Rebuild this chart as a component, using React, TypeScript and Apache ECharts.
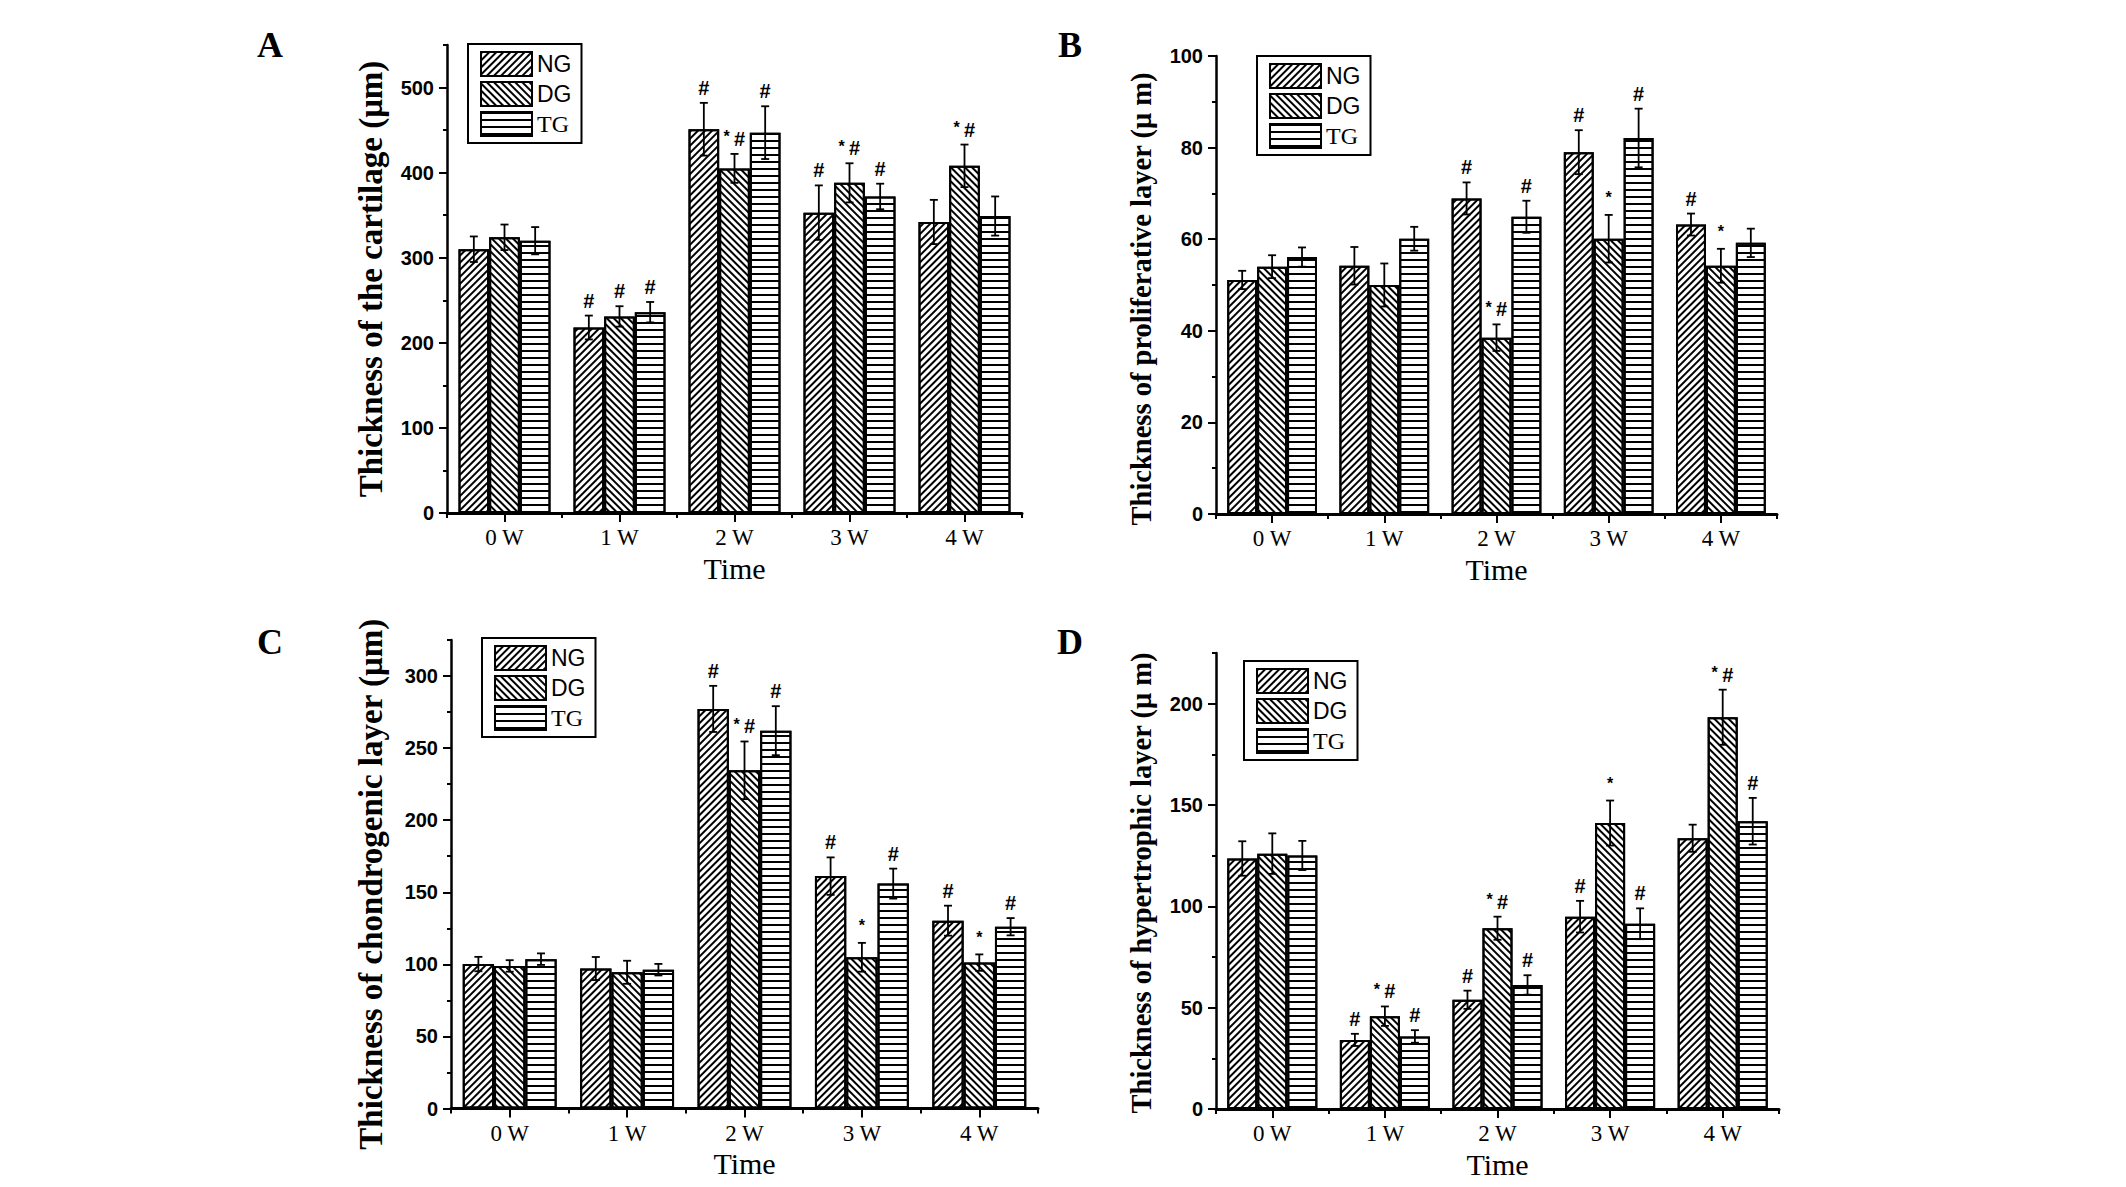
import React, { useEffect, useRef } from 'react';
import * as echarts from 'echarts';

// ---------- data ----------
const categories = ['0 W', '1 W', '2 W', '3 W', '4 W'];
const groupNames = ['NG', 'DG', 'TG'];

// A: thickness of the cartilage (μm)
const cartilageNG = [310, 218, 451, 353, 342];
const cartilageDG = [324, 231, 405, 388, 408];
const cartilageTG = [320, 236, 447, 372, 349];
const cartilageNGErr = [15, 14, 31, 32, 26];
const cartilageDGErr = [15, 12, 17, 23, 25];
const cartilageTGErr = [16, 12, 31, 15, 23];
const cartilageNGSig = ['', '#', '#', '#', ''];
const cartilageDGSig = ['', '#', '*#', '*#', '*#'];
const cartilageTGSig = ['', '#', '#', '#', ''];
const cartilageTicks = [0, 100, 200, 300, 400, 500];
const cartilageMinorTicks = [50, 150, 250, 350, 450, 550];

// B: thickness of proliferative layer (μm)
const prolifNG = [51.1, 54.2, 68.9, 79.0, 63.2];
const prolifDG = [54.0, 50.0, 38.5, 60.1, 54.2];
const prolifTG = [56.1, 60.1, 64.9, 82.1, 59.2];
const prolifNGErr = [2.0, 4.1, 3.5, 4.8, 2.4];
const prolifDGErr = [2.5, 4.7, 2.9, 5.2, 3.7];
const prolifTGErr = [2.1, 2.6, 3.5, 6.4, 3.1];
const prolifNGSig = ['', '', '#', '#', '#'];
const prolifDGSig = ['', '', '*#', '*', '*'];
const prolifTGSig = ['', '', '#', '#', ''];
const prolifTicks = [0, 20, 40, 60, 80, 100];
const prolifMinorTicks = [10, 30, 50, 70, 90];

// C: thickness of chondrogenic layer (μm)
const chondroNG = [100.2, 97.1, 277.2, 161.2, 130.3];
const chondroDG = [98.9, 94.5, 234.6, 104.9, 101.2];
const chondroTG = [103.6, 96.3, 262.1, 156.0, 126.1];
const chondroNGErr = [5, 8, 16, 13, 10.4];
const chondroDGErr = [4, 8, 20, 10, 5.7];
const chondroTGErr = [4, 4, 17, 10.4, 6];
const chondroNGSig = ['', '', '#', '#', '#'];
const chondroDGSig = ['', '', '*#', '*', '*'];
const chondroTGSig = ['', '', '#', '#', '#'];
const chondroTicks = [0, 50, 100, 150, 200, 250, 300];
const chondroMinorTicks = [25, 75, 125, 175, 225, 275, 325];

// D: thickness of hypertrophic layer (μm)
const hyperNG = [123.6, 34.1, 53.9, 94.9, 133.6];
const hyperDG = [126.0, 45.8, 89.2, 141.1, 193.3];
const hyperTG = [125.1, 35.8, 61.2, 91.4, 142.0];
const hyperNGErr = [8.5, 3, 4.5, 7.8, 6.7];
const hyperDGErr = [10, 4.8, 5.7, 11.1, 13.6];
const hyperTGErr = [7.2, 3.1, 4.8, 7.6, 11.5];
const hyperNGSig = ['', '#', '#', '#', ''];
const hyperDGSig = ['', '*#', '*#', '*', '*#'];
const hyperTGSig = ['', '#', '#', '#', '#'];
const hyperTicks = [0, 50, 100, 150, 200];
const hyperMinorTicks = [25, 75, 125, 175, 225];

const panels = [
  {
    letter: 'A', title: 'Thickness of the cartilage (μm)',
    values: [cartilageNG, cartilageDG, cartilageTG],
    errors: [cartilageNGErr, cartilageDGErr, cartilageTGErr],
    sigs: [cartilageNGSig, cartilageDGSig, cartilageTGSig],
    ticks: cartilageTicks, minorTicks: cartilageMinorTicks, yMax: 550, step: 50,
  },
  {
    letter: 'B', title: 'Thickness of proliferative layer (μ m)',
    values: [prolifNG, prolifDG, prolifTG],
    errors: [prolifNGErr, prolifDGErr, prolifTGErr],
    sigs: [prolifNGSig, prolifDGSig, prolifTGSig],
    ticks: prolifTicks, minorTicks: prolifMinorTicks, yMax: 100, step: 10,
  },
  {
    letter: 'C', title: 'Thickness of chondrogenic layer (μm)',
    values: [chondroNG, chondroDG, chondroTG],
    errors: [chondroNGErr, chondroDGErr, chondroTGErr],
    sigs: [chondroNGSig, chondroDGSig, chondroTGSig],
    ticks: chondroTicks, minorTicks: chondroMinorTicks, yMax: 325, step: 25,
  },
  {
    letter: 'D', title: 'Thickness of hypertrophic layer (μ m)',
    values: [hyperNG, hyperDG, hyperTG],
    errors: [hyperNGErr, hyperDGErr, hyperTGErr],
    sigs: [hyperNGSig, hyperDGSig, hyperTGSig],
    ticks: hyperTicks, minorTicks: hyperMinorTicks, yMax: 225, step: 25,
  },
];

// ---------- layout / style ----------
const layouts = [
  { grid: { left: 447, top: 45, width: 575, height: 468 }, titleSize: 33, nameGap: 60, titleShift: 0, legend: { left: 468, top: 44 }, letterPos: [270, 45] },
  { grid: { left: 1216, top: 56, width: 561, height: 458 }, titleSize: 28.5, nameGap: 60, titleShift: 14, legend: { left: 1257, top: 56 }, letterPos: [1070, 45] },
  { grid: { left: 451, top: 640, width: 587, height: 468.5 }, titleSize: 33, nameGap: 64, titleShift: 10, legend: { left: 482, top: 638 }, letterPos: [270, 642] },
  { grid: { left: 1216, top: 653, width: 563, height: 456 }, titleSize: 28.5, nameGap: 60, titleShift: 2, legend: { left: 1244, top: 661 }, letterPos: [1070, 642] },
];

const BAR_GROUP_FRAC = 0.8;
const SANS = 'Liberation Sans, Arial, sans-serif';
const SERIF = 'Liberation Serif, Times New Roman, serif';

const decals = [
  { symbol: 'rect', symbolSize: 1, color: '#000', dashArrayX: [1, 0], dashArrayY: [1.3, 2.5], rotation: -Math.PI / 4 },
  { symbol: 'rect', symbolSize: 1, color: '#000', dashArrayX: [1, 0], dashArrayY: [1.3, 2.5], rotation: Math.PI / 4 },
  { symbol: 'rect', symbolSize: 1, color: '#000', dashArrayX: [1, 0], dashArrayY: [1.8, 4.8], rotation: 0 },
];

function buildOption() {
  const grid: any[] = [];
  const xAxis: any[] = [];
  const yAxis: any[] = [];
  const series: any[] = [];
  const legend: any[] = [];
  const graphic: any[] = [];

  panels.forEach((p, pi) => {
    const L = layouts[pi];
    grid.push({ ...L.grid, containLabel: false });
    xAxis.push({
      type: 'category', gridIndex: pi, data: categories, position: 'bottom',
      axisLine: { show: true, onZero: false, lineStyle: { color: '#000', width: 3 } },
      axisTick: { show: true, alignWithLabel: true, length: 9, lineStyle: { color: '#000', width: 2 } },
      axisLabel: { fontFamily: SERIF, fontSize: 23, color: '#000', margin: 13 },
      splitLine: { show: false },
      name: 'Time', nameLocation: 'middle', nameGap: 40,
      nameTextStyle: { fontFamily: SERIF, fontSize: 30, color: '#000' },
    });
    xAxis.push({
      type: 'category', gridIndex: pi, data: categories, position: 'bottom',
      axisLine: { show: false, onZero: false },
      axisTick: { show: true, length: 5, lineStyle: { color: '#000', width: 2 } },
      axisLabel: { show: false }, splitLine: { show: false },
    });
    yAxis.push({
      type: 'value', gridIndex: pi, position: 'left', min: 0, max: p.yMax, interval: p.step,
      splitLine: { show: false },
      axisLine: { show: true, lineStyle: { color: '#000', width: 2.5 } },
      axisTick: { show: true, length: 8, customValues: p.ticks, lineStyle: { color: '#000', width: 2 } },
      axisLabel: { customValues: p.ticks, fontFamily: SANS, fontWeight: 'bold', fontSize: 20, color: '#000', margin: 13 },
      name: p.title, nameLocation: 'middle', nameRotate: 90, nameGap: L.nameGap,
      nameTextStyle: {
        fontFamily: SERIF, fontWeight: 'bold', fontSize: L.titleSize, color: '#000',
        padding: [0, L.titleShift * 2, 0, 0],
      },
    });
    yAxis.push({
      type: 'value', gridIndex: pi, position: 'left', min: 0, max: p.yMax, interval: p.step,
      splitLine: { show: false },
      axisLine: { show: false },
      axisTick: { show: true, length: 4, customValues: p.minorTicks, lineStyle: { color: '#000', width: 2 } },
      axisLabel: { show: false },
    });

    groupNames.forEach((g, gi) => {
      series.push({
        type: 'bar', name: g, xAxisIndex: pi * 2, yAxisIndex: pi * 2,
        data: p.values[gi], barGap: '0%', barCategoryGap: '20%',
        itemStyle: { color: '#fff', borderColor: '#000', borderWidth: 2, decal: decals[gi] },
        emphasis: { disabled: true }, silent: true,
      });
    });
    groupNames.forEach((g, gi) => {
      const vals = p.values[gi];
      const errs = p.errors[gi];
      const sigs = p.sigs[gi];
      series.push({
        type: 'custom', name: `err-${p.letter}-${g}`, xAxisIndex: pi * 2, yAxisIndex: pi * 2,
        data: vals.map((v, i) => [i, v, errs[i]]),
        encode: { x: 0, y: 1 }, z: 10, silent: true,
        renderItem: (params: any, api: any) => {
          const ci = api.value(0);
          const v = api.value(1);
          const e = api.value(2);
          const band = api.size([1, 0])[0];
          const c = api.coord([ci, v]);
          const x = c[0] + (gi - 1) * band * BAR_GROUP_FRAC / 3;
          const yTop = api.coord([ci, v + e])[1];
          const yBot = api.coord([ci, v - e])[1];
          const ls = { stroke: '#000', lineWidth: 1.8 };
          const children: any[] = [
            { type: 'line', shape: { x1: x, y1: yTop, x2: x, y2: yBot }, style: ls },
            { type: 'line', shape: { x1: x - 4, y1: yTop, x2: x + 4, y2: yTop }, style: ls },
            { type: 'line', shape: { x1: x - 4, y1: yBot, x2: x + 4, y2: yBot }, style: ls },
          ];
          const sig = sigs[params.dataIndex];
          const base = yTop - 5;
          const hash = (hx: number) => ({
            type: 'text', x: hx, y: base,
            style: { text: '#', fontFamily: SANS, fontWeight: 'bold', fontSize: 20, fill: '#000', align: 'center', verticalAlign: 'bottom', textAlign: 'center', textVerticalAlign: 'bottom' },
          });
          const star = (sx: number) => ({
            type: 'text', x: sx, y: base - 4,
            style: { text: '*', fontFamily: SANS, fontWeight: 'bold', fontSize: 16, fill: '#000', align: 'center', verticalAlign: 'bottom', textAlign: 'center', textVerticalAlign: 'bottom' },
          });
          if (sig === '#') children.push(hash(x));
          else if (sig === '*') children.push(star(x));
          else if (sig === '*#') { children.push(star(x - 8)); children.push(hash(x + 5)); }
          return { type: 'group', children };
        },
      });
    });

    legend.push({
      orient: 'vertical', left: L.legend.left, top: L.legend.top, data: groupNames,
      icon: 'rect', itemWidth: 51, itemHeight: 24, itemGap: 4,
      padding: [7, 10, 6, 12], borderColor: '#000', borderWidth: 2, backgroundColor: '#fff',
      selectedMode: false,
      itemStyle: { borderColor: '#000', borderWidth: 2 },
      formatter: (n: string) => (n === 'TG' ? `{t|${n}}` : `{s|${n}}`),
      textStyle: {
        color: '#000',
        rich: {
          s: { fontFamily: SANS, fontSize: 23, color: '#000' },
          t: { fontFamily: SERIF, fontSize: 24, color: '#000' },
        },
      },
    });

    graphic.push({
      type: 'text', x: L.letterPos[0], y: L.letterPos[1],
      style: { text: p.letter, fontFamily: SERIF, fontWeight: 'bold', fontSize: 36, fill: '#000', align: 'center', verticalAlign: 'middle', textAlign: 'center', textVerticalAlign: 'middle' },
    });
  });

  return {
    animation: false,
    backgroundColor: '#fff',
    grid, xAxis, yAxis, series, legend, graphic,
  };
}

export default function App() {
  const ref = useRef<HTMLDivElement>(null);
  useEffect(() => {
    if (!ref.current) return;
    const chart = echarts.init(ref.current, undefined, { renderer: 'svg' });
    chart.setOption(buildOption() as any);
    return () => chart.dispose();
  }, []);
  return (
    <div
      ref={ref}
      style={{ position: 'absolute', left: 0, top: 0, width: 2126, height: 1187, background: '#fff' }}
    />
  );
}
